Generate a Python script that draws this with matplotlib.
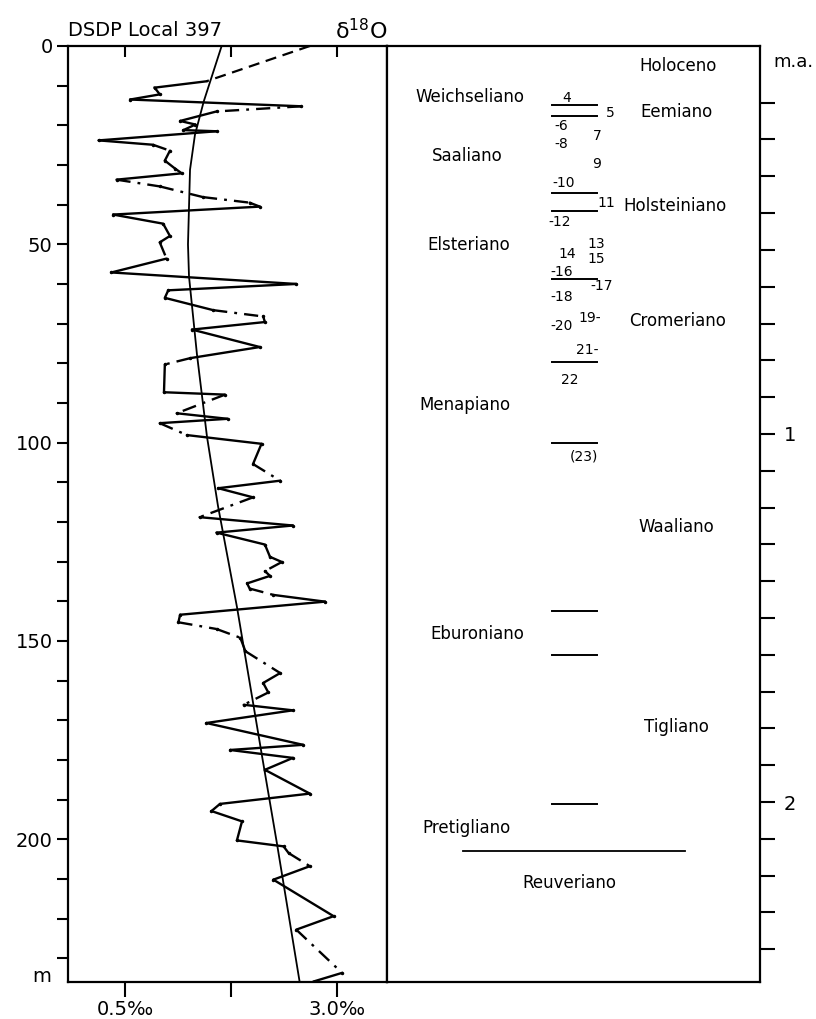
import numpy as np
import matplotlib
matplotlib.use('Agg')
import matplotlib.pyplot as plt

# delta 18O record, DSDP site 397 (depth in m, value in per mil)
depth = [10.5, 12.2, 13.5, 15.2, 16.5, 18.9, 19.8, 21.2, 21.5, 23.8, 24.9, 26.4,
         28.9, 30.9, 32.1, 33.7, 35.4, 38.1, 39.5, 40.5, 42.5, 44.8, 47.9, 49.5,
         53.6, 57.1, 60.0, 61.6, 63.5, 66.6, 68.2, 69.6, 71.5, 75.9, 78.7, 80.3,
         87.3, 87.9, 92.6, 94.0, 95.1, 98.1, 100.3, 105.4, 109.6, 111.5, 113.8,
         118.8, 120.9, 122.7, 125.7, 128.8, 130.1, 132.4, 133.6, 135.5, 136.8,
         138.4, 140.1, 143.4, 145.3, 147.0, 149.2, 152.6, 158.1, 160.6, 163.0,
         166.1, 167.5, 170.7, 176.2, 177.5, 179.5, 182.5, 188.5, 191.1, 192.9,
         195.5, 200.3, 201.8, 203.5, 206.8, 210.2, 219.4, 222.8, 233.7, 235.9]
d18o = [0.85, 0.91, 0.56, 2.58, 1.58, 1.15, 1.33, 1.19, 1.58, 0.19, 0.83, 1.03,
        0.97, 1.09, 1.17, 0.40, 0.91, 1.42, 1.97, 2.09, 0.36, 0.95, 1.03, 0.91,
        0.99, 0.34, 2.52, 1.01, 0.97, 1.54, 2.13, 2.15, 1.29, 2.09, 1.27, 0.97,
        0.96, 1.68, 1.11, 1.71, 0.91, 1.23, 2.11, 2.01, 2.33, 1.60, 2.01, 1.38,
        2.48, 1.58, 2.15, 2.21, 2.35, 2.15, 2.21, 1.94, 1.97, 2.25, 2.86, 1.15,
        1.13, 1.58, 1.86, 1.92, 2.33, 2.13, 2.19, 1.90, 2.48, 1.46, 2.60, 1.74,
        2.48, 2.15, 2.68, 1.62, 1.52, 1.88, 1.82, 2.37, 2.43, 2.68, 2.25, 2.96,
        2.52, 3.06, 2.72]

# extrapolation to the core top
top_depth = [0.0, 8.9]
top_d18o = [2.68, 1.46]

# long term trend
trend_depth = [0, 13.9, 22.4, 31.2, 50, 58.1, 77.8, 98.5, 116, 141.5, 179, 200.8, 236]
trend_d18o = [1.64, 1.43, 1.325, 1.267, 1.243, 1.255, 1.349, 1.467, 1.597, 1.821,
              2.116, 2.29, 2.56]

# stages (age in m.a.)
stage_names = ['Holoceno', 'Weichseliano', 'Eemiano', 'Saaliano', 'Holsteiniano',
               'Elsteriano', 'Cromeriano', 'Menapiano', 'Waaliano', 'Eburoniano',
               'Tigliano', 'Pretigliano', 'Reuveriano']
stage_age = [0.0, 0.085, 0.124, 0.244, 0.382, 0.488, 0.693, 0.921, 1.252, 1.543,
             1.797, 2.071, 2.219]

# isotope stage numbers
iso_labels = ['4', '5', '-6', '7', '-8', '9', '-10', '11', '-12', '13', '14', '15',
              '-16', '-17', '-18', '19-', '-20', '21-', '22', '(23)']
iso_age = [0.086, 0.127, 0.163, 0.19, 0.212, 0.266, 0.319, 0.373, 0.423, 0.485,
           0.511, 0.525, 0.559, 0.598, 0.629, 0.686, 0.707, 0.772, 0.853, 1.062]

# boundary lines (age)
bound_age = [0.106, 0.135, 0.346, 0.395, 0.58, 0.805, 1.025, 1.481, 1.601, 2.005]
pliocene_age = 2.133

# style / placement (kept apart from the data)
dashdot_segments = [3, 10, 15, 16, 17, 21, 23, 27, 29, 34, 37, 40, 43, 46, 50, 52,
                    56, 60, 61, 63, 65, 66, 80, 84]
stage_x = [0.78, 0.223, 0.777, 0.214, 0.772, 0.218, 0.779, 0.209, 0.775, 0.242,
           0.777, 0.214, 0.489]
iso_x = [0.482, 0.598, 0.468, 0.563, 0.468, 0.563, 0.473, 0.587, 0.464, 0.56,
         0.482, 0.56, 0.468, 0.575, 0.468, 0.544, 0.468, 0.537, 0.489, 0.528]

plt.rcParams['font.family'] = ['DejaVu Sans']

fig = plt.figure(figsize=(8.16, 10.19), dpi=100)
ax = fig.add_axes([68 / 816, 1 - 982 / 1019, 319 / 816, 936 / 1019])
ax2 = fig.add_axes([387 / 816, 1 - 982 / 1019, 373 / 816, 936 / 1019])

# ---- left panel: isotope curve
dd = (0, (6, 3, 1.2, 3))
for i in range(len(depth) - 1):
    ls = dd if i in dashdot_segments else '-'
    ax.plot(d18o[i:i + 2], depth[i:i + 2], color='black', lw=1.7, ls=ls,
            solid_capstyle='round')
ax.plot(d18o, depth, '.', color='black', ms=3)
ax.plot(top_d18o, top_depth, color='black', lw=1.6, ls=(0, (5, 3)))
ax.plot([top_d18o[-1], d18o[0]], [top_depth[-1], depth[0]], color='black', lw=1.7)
ax.plot(trend_d18o, trend_depth, color='black', lw=1.3)

ax.set_xlim(-0.172, 3.59)
ax.set_ylim(236, 0)
ax.set_xticks([0.5, 1.75, 3.0])
ax.set_xticklabels(['0.5‰', '', '3.0‰'], fontsize=14)
ax.set_yticks(np.arange(0, 231, 10))
ax.set_yticklabels([str(v) if v % 50 == 0 else '' for v in range(0, 231, 10)],
                   fontsize=14)
ax.tick_params(axis='y', direction='out', length=8, width=1.5, pad=3)
ax.tick_params(axis='x', direction='out', length=11, width=1.5, pad=2,
               top=True)
for s in ax.spines.values():
    s.set_linewidth(1.6)
# top ticks go inward
for t in ax.xaxis.get_major_ticks():
    t.tick2line.set_marker(matplotlib.lines.TICKDOWN)
    t.tick2line.set_markersize(8)

ax.text(-0.37, 234.5, 'm', fontsize=14, ha='right', va='center')
fig.text(68 / 816, 1 - 30 / 1019, 'DSDP Local 397', fontsize=14, ha='left',
         va='center')
fig.text(387 / 816, 1 - 31 / 1019, r'$\mathregular{\delta^{18}O}$', fontsize=16,
         ha='right', va='center')

# ---- right panel: stratigraphy
ax2.set_xlim(0, 1)
ax2.set_ylim(2.489, -0.054)
ax2.set_xticks([])
ax2.yaxis.tick_right()
ma_ticks = np.round(np.arange(0.1, 2.41, 0.1), 1)
ax2.set_yticks(ma_ticks)
ax2.set_yticklabels(['1' if abs(v - 1) < 1e-6 else '2' if abs(v - 2) < 1e-6 else ''
                     for v in ma_ticks], fontsize=14)
ax2.tick_params(axis='y', direction='out', length=11, width=1.5, pad=6)
for s in ax2.spines.values():
    s.set_linewidth(1.6)

for name, x, y in zip(stage_names, stage_x, stage_age):
    ax2.text(x, y, name, fontsize=12, ha='center', va='center')
for lab, x, y in zip(iso_labels, iso_x, iso_age):
    ax2.text(x, y, lab, fontsize=10, ha='center', va='center')
for y in bound_age:
    ax2.plot([0.443, 0.562], [y, y], color='black', lw=1.4)
ax2.plot([0.205, 0.798], [pliocene_age, pliocene_age], color='black', lw=1.3)

fig.text(773 / 816, 1 - 62 / 1019, 'm.a.', fontsize=13, ha='left', va='center')

fig.savefig('out.png', dpi=100)
